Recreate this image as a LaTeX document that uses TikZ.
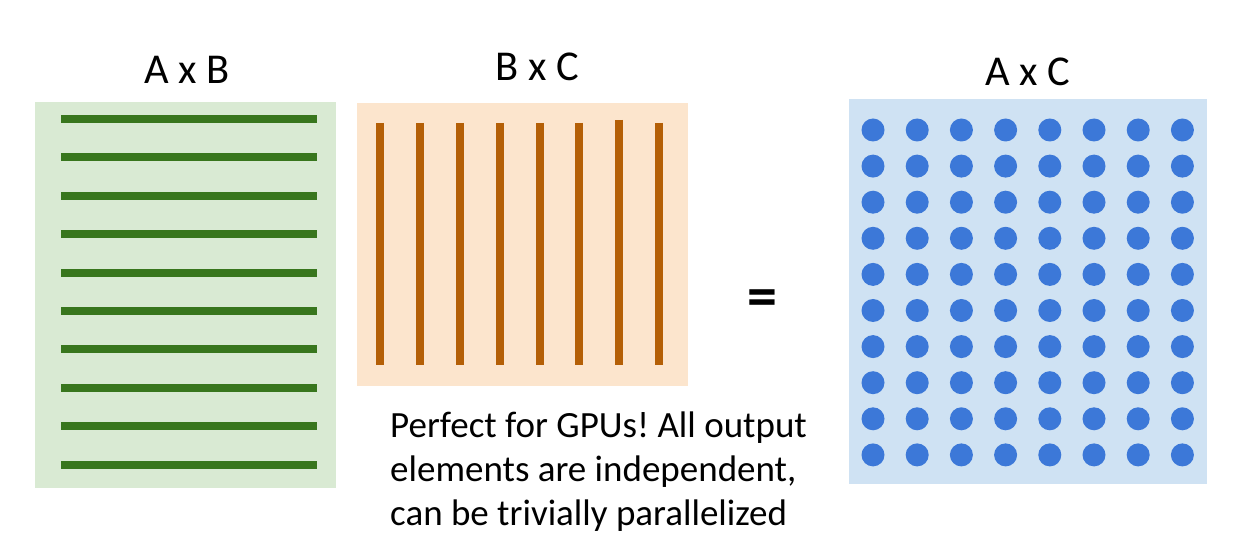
\documentclass[tikz,border=0pt]{standalone}
\usepackage{fontspec}
\setmainfont{Carlito}
\definecolor{abfill}{HTML}{D9EAD3}
\definecolor{abline}{HTML}{38761D}
\definecolor{bcfill}{HTML}{FCE5CD}
\definecolor{bcline}{HTML}{B45F06}
\definecolor{acfill}{HTML}{CFE2F3}
\definecolor{acdot}{HTML}{3C78D8}
\tikzset{
  title/.style={inner sep=0pt,font=\fontsize{42.5}{50}\selectfont},
  note/.style={inner sep=0pt,anchor=base west,font=\fontsize{37}{44}\selectfont\frenchspacing},
  row/.style={abline,line width=8pt},
  col/.style={bcline,line width=8pt},
}
\begin{document}
\begin{tikzpicture}[x=1pt,y=-1pt]
  \useasboundingbox (0,0) rectangle (1234,545);
  % matrices
  \fill[abfill] (35,102) rectangle (336,488);
  \fill[bcfill] (357,103) rectangle (688,386);
  \fill[acfill] (849,99) rectangle (1207,484);
  \foreach \i in {0,...,9}
    \draw[row] (61,119+38.4*\i) -- (317,119+38.4*\i);
  \foreach \x/\t in {380/123,420/123,460/123,500/123,540/123,579/123,619/120,659/123}
    \draw[col] (\x,\t) -- (\x,365);
  \foreach \i in {0,...,7}
    \foreach \j in {0,...,9}
      \fill[acdot] (873+44.2*\i,130+36.1*\j) circle (11.5);
  % labels
  \draw
    (187,70) node[title] (ab){A x B}
    (537,67) node[title] (bc){B x C}
    (1028,72) node[title] (ac){A x C}
    (762,303) node[title,font=\fontsize{60}{60}\selectfont\bfseries] (eq){=};
  \begin{scope}[every node/.style=note]
    \node (note1) at (390,437) {Perfect for GPUs! All output};
    \node (note2) at (390,481) {elements are independent,};
    \node (note3) at (390,525) {can be trivially parallelized};
  \end{scope}
\end{tikzpicture}
\end{document}
